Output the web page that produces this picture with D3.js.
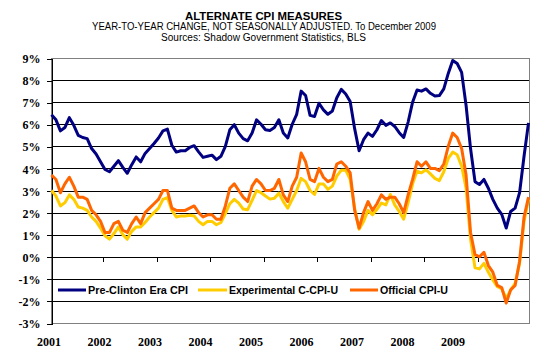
<!DOCTYPE html>
<html><head><meta charset="utf-8">
<script src="https://cdn.jsdelivr.net/npm/d3@7/dist/d3.min.js"></script>
<style>body{margin:0;background:#fff}svg{display:block}</style>
</head><body>
<script>
const years = ["2001","2002","2003","2004","2005","2006","2007","2008","2009"];
const yTicks = [-3,-2,-1,0,1,2,3,4,5,6,7,8,9];
const titleText = "ALTERNATE CPI MEASURES";
const subtitleText = "YEAR-TO-YEAR CHANGE, NOT SEASONALLY ADJUSTED. To December 2009";
const sourceText = "Sources: Shadow Government Statistics, BLS";
const seriesNames = ["Pre-Clinton Era CPI","Experimental C-CPI-U","Official CPI-U"];

const preClinton = [
 6.43,6.2,5.7,5.85,6.3,5.95,5.5,5.4,5.35,4.9,4.65,4.3,
 3.95,3.85,4.1,4.35,4.05,3.78,4.17,4.52,4.3,4.68,4.9,5.13,
 5.38,5.7,5.78,5.05,4.74,4.8,4.8,4.95,5.03,4.75,4.5,4.55,
 4.6,4.4,4.55,5.0,5.75,5.98,5.6,5.35,5.25,5.6,6.2,6.0,
 5.75,5.72,5.85,6.2,5.6,5.38,6.0,6.45,7.5,7.3,6.4,6.35,
 6.95,6.65,6.45,6.6,7.2,7.58,7.37,7.03,5.8,4.8,5.3,5.6,
 5.45,5.75,6.17,5.95,6.06,5.9,5.62,5.4,6.1,7.0,7.55,7.5,
 7.6,7.4,7.28,7.3,7.6,8.3,8.89,8.75,8.35,6.85,4.9,3.4,
 3.27,3.5,3.1,2.6,2.2,1.92,1.3,2.05,2.2,2.9,4.55,6.06];
const experimental = [
 3.0,2.75,2.3,2.45,2.8,2.6,2.25,2.2,2.1,1.8,1.6,1.3,
 0.95,0.8,1.05,1.35,1.0,0.8,1.15,1.35,1.35,1.55,1.8,2.0,
 2.2,2.6,2.68,2.1,1.8,1.85,1.85,1.88,1.85,1.6,1.45,1.6,
 1.6,1.45,1.55,1.95,2.4,2.6,2.43,2.16,2.13,2.55,3.0,2.9,
 2.75,2.61,2.65,2.88,2.5,2.2,2.6,3.0,3.55,3.4,3.0,2.82,
 3.3,3.3,3.05,3.2,3.65,3.92,3.92,3.5,2.2,1.25,1.6,2.1,
 1.9,2.15,2.43,2.35,2.82,2.35,2.05,1.7,2.45,3.3,3.88,3.8,
 3.94,3.75,3.55,3.45,3.85,4.45,4.74,4.62,4.1,3.1,0.8,-0.5,
 -0.55,-0.3,-0.7,-1.05,-1.35,-1.45,-1.9,-1.5,-1.2,-0.3,1.6,2.6];
const official = [
 3.7,3.5,2.9,3.3,3.6,3.2,2.7,2.7,2.6,2.1,1.9,1.6,
 1.1,1.1,1.5,1.6,1.2,1.1,1.5,1.8,1.5,2.0,2.2,2.4,
 2.6,3.0,3.0,2.2,2.1,2.1,2.1,2.2,2.3,2.0,1.8,1.9,
 1.9,1.7,1.7,2.3,3.1,3.3,3.0,2.7,2.5,3.2,3.5,3.3,
 3.0,3.0,3.1,3.5,2.8,2.5,3.2,3.6,4.7,4.3,3.5,3.4,
 4.0,3.6,3.4,3.5,4.2,4.3,4.1,3.8,2.1,1.3,2.0,2.5,
 2.1,2.4,2.8,2.6,2.7,2.7,2.4,2.0,2.8,3.5,4.3,4.1,
 4.3,4.0,4.0,3.9,4.2,5.0,5.6,5.4,4.9,3.7,1.1,0.1,
 0.0,0.2,-0.4,-0.7,-1.3,-1.4,-2.1,-1.5,-1.3,-0.2,1.8,2.7];
const colors = ["#000080","#FFCC00","#FF6600"];

const W = 552, H = 359;
const svg = d3.select("body").append("svg").attr("width", W).attr("height", H);
svg.append("rect").attr("width", W).attr("height", H).attr("fill", "#fff");

const L = 51, R = 530, T = 58, B = 323;
const x = d3.scaleLinear().domain([0, official.length - 1]).range([51.5, 528.5]);
const y = d3.scaleLinear().domain([-3, 9]).range([B, T]);
const yearLabelX = d3.scaleLinear().domain([0, years.length - 1]).range([49, 453]);

// titles
const sans = "'Liberation Sans', Arial, sans-serif";
svg.append("text").attr("x", 263.5).attr("y", 19.5).attr("text-anchor","middle")
  .attr("font-family", sans).attr("font-weight","bold").attr("font-size", 11)
  .attr("textLength", 157).attr("lengthAdjust","spacingAndGlyphs").text(titleText);
svg.append("text").attr("x", 264).attr("y", 29.5).attr("text-anchor","middle")
  .attr("font-family", sans).attr("font-size", 10)
  .attr("textLength", 344).attr("lengthAdjust","spacingAndGlyphs").text(subtitleText);
svg.append("text").attr("x", 263.5).attr("y", 41).attr("text-anchor","middle")
  .attr("font-family", sans).attr("font-size", 10)
  .attr("textLength", 205).attr("lengthAdjust","spacingAndGlyphs").text(sourceText);

// gridlines
svg.append("g").selectAll("line").data(yTicks.filter(d => d > -3 && d < 9)).join("line")
  .attr("x1", L).attr("x2", R).attr("y1", d => Math.round(y(d)) + 0.5).attr("y2", d => Math.round(y(d)) + 0.5)
  .attr("stroke", "#000").attr("stroke-width", 1).attr("shape-rendering","crispEdges");

// plot border (gray)
svg.append("rect").attr("x", L + 0.5).attr("y", T + 0.5).attr("width", R - L - 1).attr("height", B - T)
  .attr("fill","none").attr("stroke","#808080").attr("stroke-width",1).attr("shape-rendering","crispEdges");

// y axis
const yAxis = d3.axisLeft(y).tickValues(yTicks).tickSize(5).tickFormat(d => d + "%");
const gy = svg.append("g").attr("transform", `translate(${L + 0.5},0.5)`).call(yAxis);
gy.select(".domain").attr("stroke","#000").attr("shape-rendering","crispEdges");
gy.selectAll(".tick line").attr("stroke","#000").attr("shape-rendering","crispEdges");
gy.selectAll(".tick text").attr("font-family","'Liberation Serif','Times New Roman',serif")
  .attr("font-weight","bold").attr("font-size", 12).attr("fill","#000").attr("x", -11).attr("dy","0.34em");

// x axis at 0%
const tickIdx = d3.range(1, years.length).map(k => k * 12 - 0.5);
const xAxis = d3.axisBottom(x).tickValues(tickIdx).tickSize(4).tickFormat("");
const gx = svg.append("g").attr("transform", `translate(0.5,${Math.round(y(0)) + 0.5})`).call(xAxis);
gx.select(".domain").remove();
gx.selectAll(".tick line").attr("stroke","#000").attr("shape-rendering","crispEdges");

// year labels
svg.append("g").selectAll("text").data(years).join("text")
  .attr("x", (d, i) => yearLabelX(i)).attr("y", 346).attr("text-anchor","middle")
  .attr("font-family","'Liberation Serif','Times New Roman',serif").attr("font-weight","bold")
  .attr("font-size", 12).text(d => d);

// lines
const line = d3.line().x((d, i) => x(i)).y(d => y(d));
[preClinton, experimental, official].forEach((s, k) => {
  svg.append("path").datum(s).attr("d", line).attr("fill","none")
    .attr("stroke", colors[k]).attr("stroke-width", 3).attr("stroke-linejoin","round");
});

// legend
const legY = 290;
const legItems = [
  {x1: 58, x2: 86, tx: 88, tw: 100},
  {x1: 198, x2: 227, tx: 229, tw: 109},
  {x1: 350, x2: 378, tx: 380, tw: 68}
];
const lg = svg.append("g");
legItems.forEach((it, k) => {
  lg.append("line").attr("x1", it.x1).attr("x2", it.x2).attr("y1", legY).attr("y2", legY)
    .attr("stroke", colors[k]).attr("stroke-width", 3);
  lg.append("text").attr("x", it.tx).attr("y", legY + 3.5)
    .attr("font-family", sans).attr("font-weight","bold").attr("font-size", 10)
    .attr("textLength", it.tw).attr("lengthAdjust","spacingAndGlyphs").text(seriesNames[k]);
});
</script>
</body></html>
